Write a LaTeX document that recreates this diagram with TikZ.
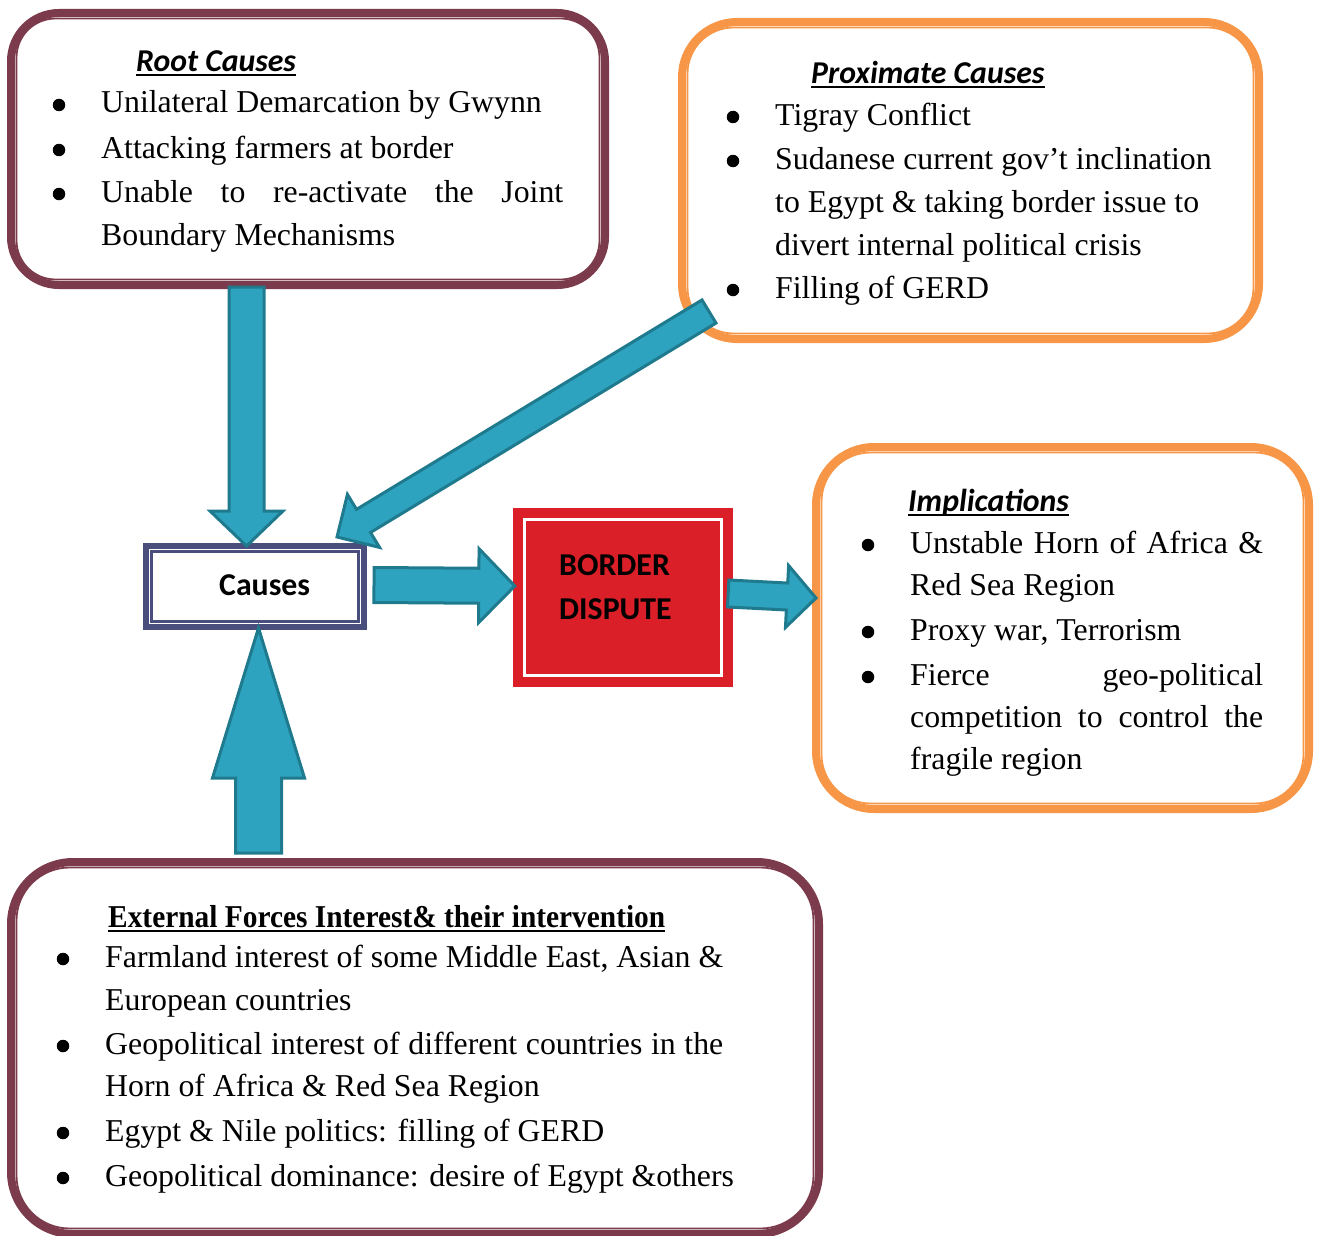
\documentclass[tikz,border=0pt]{standalone}
\usepackage{fontspec}
\setmainfont{Liberation Serif}
\newfontfamily\headfont{Carlito}
\usetikzlibrary{calc}
\definecolor{maroonline}{RGB}{124,59,76}
\definecolor{orangeline}{RGB}{247,150,70}
\definecolor{causeline}{RGB}{74,78,125}
\definecolor{borderred}{RGB}{218,31,40}
\definecolor{flowfill}{RGB}{46,163,192}
\definecolor{flowline}{RGB}{31,122,141}
\newcommand{\bodysize}{\fontsize{31.8pt}{40pt}\selectfont}
\newcommand{\blockarrow}[5]{%
\filldraw[flow] let \p1=(#1), \p2=(#2), \n1={atan2(\y2-\y1,\x2-\x1)}, \n2={veclen(\x2-\x1,\y2-\y1)-#5} in
 ($(\p1)+(\n1+90:#3)$) -- ($(\p1)+(\n1:\n2)+(\n1+90:#3)$) -- ($(\p1)+(\n1:\n2)+(\n1+90:#4)$) -- (\p2)
 -- ($(\p1)+(\n1:\n2)+(\n1-90:#4)$) -- ($(\p1)+(\n1:\n2)+(\n1-90:#3)$) -- ($(\p1)+(\n1-90:#3)$) -- cycle;}
\begin{document}
\begin{tikzpicture}[x=1pt,y=-1pt,
  txt/.style={anchor=base west,inner sep=0pt,font=\bodysize},
  dot/.style={circle,fill=black,inner sep=0pt,minimum size=12.5pt,yshift=8pt},
  head/.style={anchor=base west,inner sep=0pt,font=\headfont\bfseries\itshape\bodysize},
  uline/.style={line width=2pt},
  frame/.style={line width=8pt,inner sep=0pt},
  thin/.style={line width=1.8pt},
  flow/.style={fill=flowfill,draw=flowline,line width=3pt,line join=miter}]
\useasboundingbox (0,0) rectangle (1322,1236);
\node[frame,draw=maroonline,rounded corners=48pt,minimum width=594pt,minimum height=272pt] (root) at (308,149) {};
\draw[thin,maroonline,rounded corners=39pt] ([shift={(9.5pt,-9.5pt)}]root.north west) rectangle ([shift={(-9.5pt,9.5pt)}]root.south east);
\node[frame,draw=orangeline,rounded corners=55pt,minimum width=577pt,minimum height=317pt] (prox) at (970.5,180.5) {};
\draw[thin,orangeline,rounded corners=46pt] ([shift={(9.5pt,-9.5pt)}]prox.north west) rectangle ([shift={(-9.5pt,9.5pt)}]prox.south east);
\node[frame,draw=orangeline,rounded corners=58pt,minimum width=493pt,minimum height=362pt] (impl) at (1062.5,628) {};
\draw[thin,orangeline,rounded corners=49pt] ([shift={(9.5pt,-9.5pt)}]impl.north west) rectangle ([shift={(-9.5pt,9.5pt)}]impl.south east);
\node[frame,draw=maroonline,rounded corners=62pt,minimum width=808pt,minimum height=372pt] (ext) at (415,1048) {};
\draw[thin,maroonline,rounded corners=53pt] ([shift={(9.5pt,-9.5pt)}]ext.north west) rectangle ([shift={(-9.5pt,9.5pt)}]ext.south east);
\node[draw=causeline,line width=6pt,inner sep=0pt,minimum width=218pt,minimum height=81pt] (causes) at (255,586.5) {};
\draw[causeline,line width=2.5pt] ([shift={(8.5pt,-8.5pt)}]causes.north west) rectangle ([shift={(-8.5pt,8.5pt)}]causes.south east);
\node[fill=borderred,inner sep=0pt,minimum width=220pt,minimum height=179pt] (border) at (623,597.5) {};
\draw[white,line width=3.5pt] ([shift={(11.5pt,-11.5pt)}]border.north west) rectangle ([shift={(-11.5pt,11.5pt)}]border.south east);
\node[anchor=base west,inner sep=0pt,font=\headfont\bfseries\bodysize] (causestxt) at (219,595) {Causes};
\node[anchor=base west,inner sep=0pt,font=\headfont\bfseries\bodysize] (bordertxt) at (559,575) {BORDER};
\node[anchor=base west,inner sep=0pt,font=\headfont\bfseries\bodysize] (disputetxt) at (559,619) {DISPUTE};
\node[head] (rhead) at (136,72) {Root Causes};
\draw[uline] ([yshift=-3.5pt]rhead.base west) -- ([yshift=-3.5pt]rhead.base east);
\node[dot] (r1) at (59,113) {};
\node[dot] (r2) at (59,158) {};
\node[dot] (r3) at (59,202) {};
\node[txt] (rt1) at (101,113) {Unilateral Demarcation by Gwynn};
\node[txt] (rt2) at (101,158) {Attacking farmers at border};
\node[txt] (rt3) at (101,202) {\makebox[462pt][s]{Unable to re-activate the Joint}};
\node[txt] (rt4) at (101,245) {Boundary Mechanisms};
\node[head] (phead) at (811,84) {Proximate Causes};
\draw[uline] ([yshift=-3.5pt]phead.base west) -- ([yshift=-3.5pt]phead.base east);
\node[dot] (p1) at (733,125) {};
\node[dot] (p2) at (733,169) {};
\node[dot] (p3) at (733,298) {};
\node[txt] (pt1) at (775,125) {Tigray Conflict};
\node[txt] (pt2) at (775,169) {Sudanese current gov’t inclination};
\node[txt] (pt3) at (775,212) {to Egypt \& taking border issue to};
\node[txt] (pt4) at (775,255) {divert internal political crisis};
\node[txt] (pt5) at (775,298) {Filling of GERD};
\node[head] (ihead) at (908,511) {Implications};
\draw[uline] ([yshift=-3.5pt]ihead.base west) -- ([yshift=-3.5pt]ihead.base east);
\node[dot] (i1) at (868,553) {};
\node[dot] (i2) at (868,640) {};
\node[dot] (i3) at (868,685) {};
\node[txt] (it1) at (910,553) {\makebox[353pt][s]{Unstable Horn of Africa \&}};
\node[txt] (it2) at (910,595) {Red Sea Region};
\node[txt] (it3) at (910,640) {Proxy war, Terrorism};
\node[txt] (it4) at (910,685) {\makebox[353pt][s]{Fierce geo-political}};
\node[txt] (it5) at (910,727) {\makebox[353pt][s]{competition to control the}};
\node[txt] (it6) at (910,769) {fragile region};
\node[txt,font=\bfseries\bodysize] (ehead) at (108,927) {\scalebox{0.924}[1]{External Forces Interest\& their intervention}};
\draw[uline] ([yshift=-3.5pt]ehead.base west) -- ([yshift=-3.5pt]ehead.base east);
\node[dot] (e1) at (63,967) {};
\node[dot] (e2) at (63,1054) {};
\node[dot] (e3) at (63,1141) {};
\node[dot] (e4) at (63,1186) {};
\node[txt] (et1) at (105,967) {\makebox[618pt][s]{Farmland interest of some Middle East, Asian \&}};
\node[txt] (et2) at (105,1010) {European countries};
\node[txt] (et3) at (105,1054) {\makebox[618pt][s]{Geopolitical interest of different countries in the}};
\node[txt] (et4) at (105,1096) {Horn of Africa \& Red Sea Region};
\node[txt] (et5) at (105,1141) {Egypt \& Nile politics: filling of GERD};
\node[txt] (et6) at (105,1186) {Geopolitical dominance: desire of Egypt \&others};
\blockarrow{[xshift=-61.5pt,yshift=2pt]root.south}{[xshift=-8.5pt,yshift=-3pt]causes.north}{17.5pt}{36.5pt}{35pt}
\blockarrow{[xshift=31pt,yshift=31.5pt]prox.south west}{[xshift=82pt,yshift=6pt]causes.north}{13.5pt}{31pt}{31pt}
\blockarrow{[xshift=7pt,yshift=1.5pt]causes.east}{[xshift=2pt,yshift=11.5pt]border.west}{17.5pt}{37pt}{36pt}
\blockarrow{[xshift=-5pt,yshift=4pt]border.east}{[xshift=4pt,yshift=30pt]impl.west}{13.5pt}{31pt}{29pt}
\blockarrow{[xshift=-156.5pt,yshift=5pt]ext.north}{[xshift=3.5pt,yshift=2pt]causes.south}{23pt}{46pt}{150pt}
\end{tikzpicture}
\end{document}
